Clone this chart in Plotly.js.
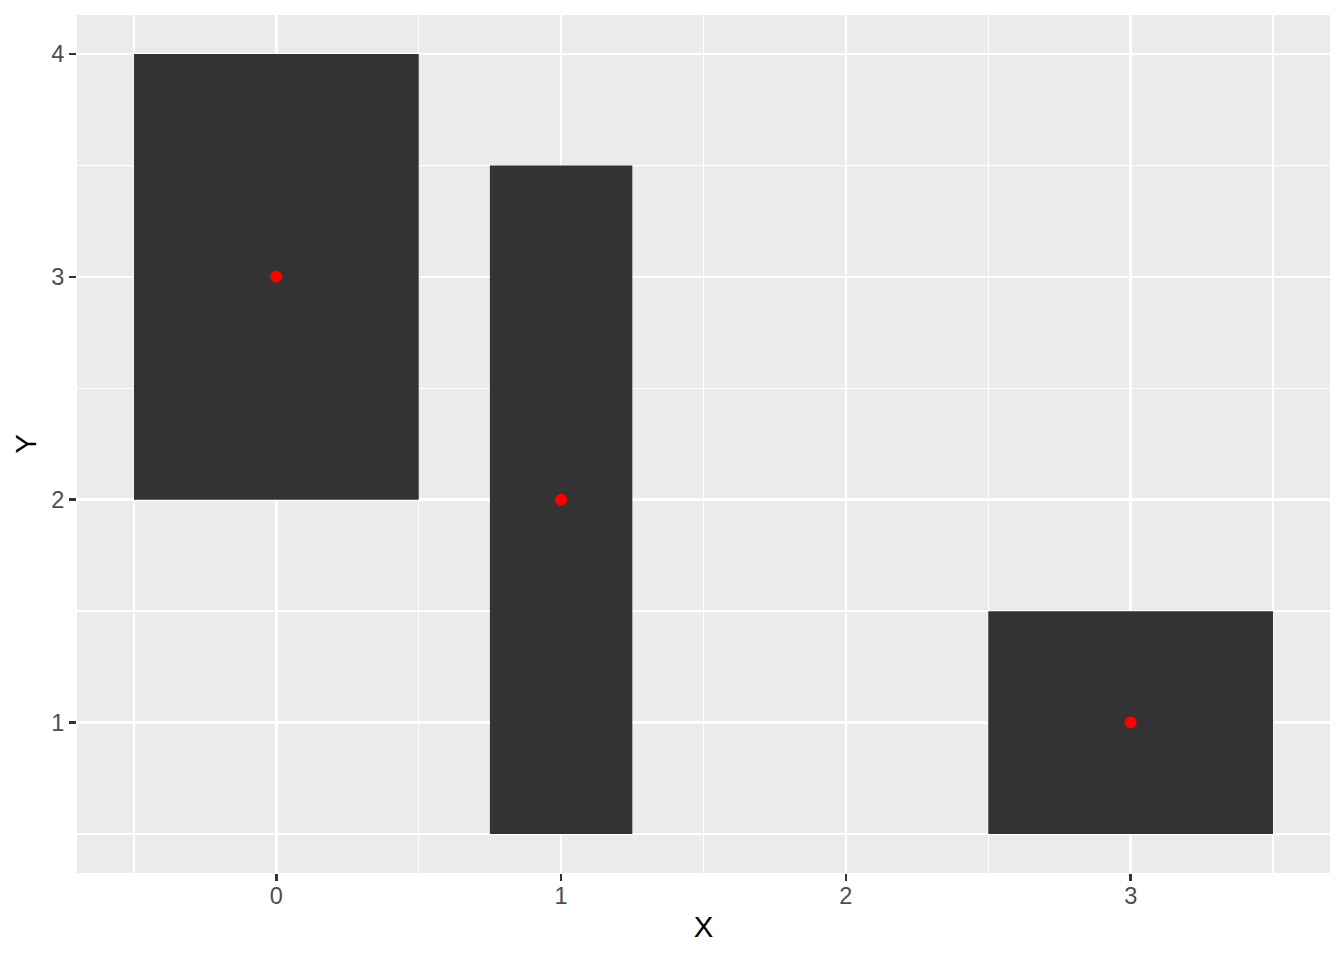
<!DOCTYPE html>
<html>
<head>
<meta charset="utf-8">
<script src="https://cdn.plot.ly/plotly-3.0.1.min.js"></script>
<style>html,body{margin:0;padding:0;background:#fff;}#chart{width:1344px;height:960px;}</style>
</head>
<body>
<div id="chart"></div>
<script>
// Tile data (centers, sizes)
const tileX = [0, 1, 3];
const tileY = [3, 2, 1];
const tileWidth = [1, 0.5, 1];
const tileHeight = [2, 3, 1];
const xTicks = [0, 1, 2, 3];
const yTicks = [1, 2, 3, 4];

const tileBase = tileY.map((y, i) => y - tileHeight[i] / 2);

const traces = [
  {
    type: 'bar',
    x: tileX,
    y: tileHeight,
    base: tileBase,
    width: tileWidth,
    marker: {color: '#333333', line: {width: 0}},
    hoverinfo: 'skip',
    showlegend: false
  },
  {
    type: 'scatter',
    mode: 'markers',
    x: tileX,
    y: tileY,
    marker: {color: '#FF0000', size: 12},
    showlegend: false
  }
];

const layout = {
  width: 1344,
  height: 960,
  paper_bgcolor: '#FFFFFF',
  plot_bgcolor: '#EBEBEB',
  margin: {l: 77, r: 14, t: 15, b: 87, pad: 0},
  showlegend: false,
  font: {family: 'Liberation Sans, Arial, sans-serif'},
  xaxis: {
    range: [-0.7, 3.7],
    tickvals: xTicks,
    ticktext: xTicks.map(String),
    showgrid: true,
    gridcolor: '#FFFFFF',
    gridwidth: 2.6,
    zeroline: false,
    showline: false,
    ticks: 'outside',
    ticklen: 7,
    tickwidth: 2.6,
    tickcolor: '#333333',
    tickfont: {size: 23.5, color: '#4D4D4D'},
    ticklabelstandoff: -5,
    minor: {dtick: 0.5, tick0: 0.5, showgrid: true, gridcolor: '#FFFFFF', gridwidth: 1.3, ticks: ''},
    title: {text: 'X', font: {size: 29.3, color: '#000000'}, standoff: 8}
  },
  yaxis: {
    range: [0.325, 4.175],
    tickvals: yTicks,
    ticktext: yTicks.map(String),
    showgrid: true,
    gridcolor: '#FFFFFF',
    gridwidth: 2.6,
    zeroline: false,
    showline: false,
    ticks: 'outside',
    ticklen: 7,
    tickwidth: 2.6,
    tickcolor: '#333333',
    tickfont: {size: 23.5, color: '#4D4D4D'},
    minor: {dtick: 0.5, tick0: 0.5, showgrid: true, gridcolor: '#FFFFFF', gridwidth: 1.3, ticks: ''},
    title: {text: 'Y', font: {size: 29.3, color: '#000000'}, standoff: 5}
  }
};

Plotly.newPlot('chart', traces, layout, {displayModeBar: false, staticPlot: true});
</script>
</body>
</html>
